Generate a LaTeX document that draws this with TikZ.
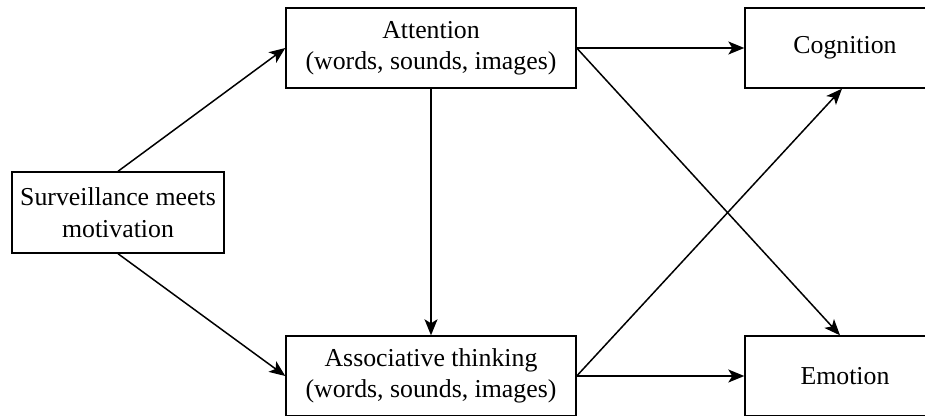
\documentclass[tikz,border=0pt]{standalone}
\usepackage{fontspec}
\setmainfont{Liberation Serif}
\usetikzlibrary{arrows.meta, positioning}
\tikzset{
    box/.style={draw, line width=1.4pt, align=center, inner sep=0pt,
        font=\fontsize{25.8}{31.5}\selectfont},
    link/.style={-{Stealth[length=16pt, width=13pt, inset=4pt]}, line width=1.5pt}
}

\begin{document}
\begin{tikzpicture}[x=1pt, y=-1pt]
                        \useasboundingbox (0,0) rectangle (925,415);
                        \node[box, minimum width=212pt, minimum height=81pt] (surv) at (118, 212.5) {Surveillance meets\\motivation};
                        \node[box, minimum width=290pt, minimum height=80pt] (att) at (431, 48) {Attention\\(words, sounds, images)};
                        \node[box, minimum width=290pt, minimum height=80pt] (assoc) at (431, 376) {Associative thinking\\(words, sounds, images)};
                        \node[box, minimum width=200pt, minimum height=80pt] (cog) at (845, 48) {Cognition};
                        \node[box, minimum width=200pt, minimum height=80pt] (emo) at (845, 376) {Emotion};
                        \draw
                        (surv.north) edge[link] (att.west)
                        (surv.south) edge[link] (assoc.west)
                        (att.south) edge[link] (assoc.north)
                        (att.east) edge[link] (cog.west)
                        (att.east) edge[link] ([xshift=-5pt]emo.north)
                        (assoc.east) edge[link] ([xshift=-3pt]cog.south)
                        (assoc.east) edge[link] (emo.west);
                    \end{tikzpicture}
\end{document}
